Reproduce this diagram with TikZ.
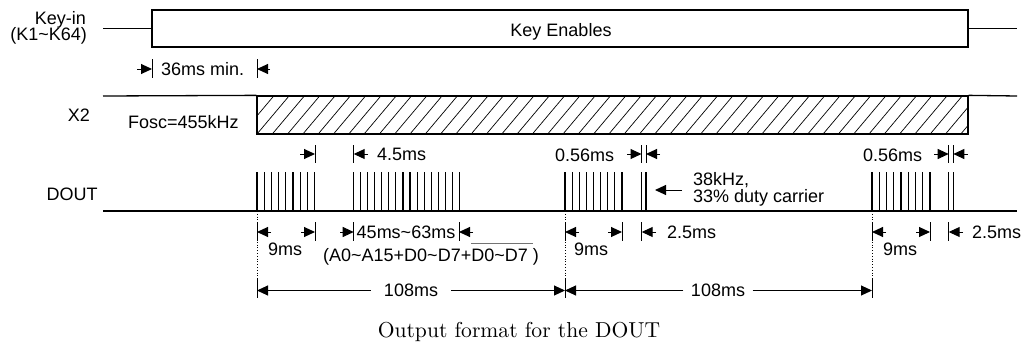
\documentclass[tikz,border=0pt]{standalone}
\usepackage{fontspec}
\newfontfamily\arial{Liberation Sans}
\newfontfamily\capfont{lmroman10-regular}[Extension=.otf]
\usetikzlibrary{arrows.meta}
\newsavebox\ovbox
\newcommand\ovbar[1]{\sbox\ovbox{#1}\rlap{\textcolor{black!55}{\rule[17pt]{\wd\ovbox}{1pt}}}\usebox\ovbox}
\begin{document}
\begin{tikzpicture}[x=1pt,y=-1pt,
  sig/.style={line width=1.3pt},
  pulse/.style={line width=1.1pt},
  tickline/.style={line width=1pt},
  hatch/.style={line width=0.7pt},
  dimarr/.style={line width=1pt,-{Triangle[length=11pt,width=10pt]}},
  lbl/.style={font=\arial\fontsize{18}{18}\selectfont, inner sep=0pt, anchor=base},
]
\useasboundingbox (0,0) rectangle (1024,345);

% ---------------- Key-in ----------------
\node[lbl, anchor=base east] (kin1) at (86,25) {Key-in};
\node[lbl, anchor=base east] (kin2) at (87,41) {(K1\textasciitilde K64)};
\coordinate (kinL) at (103,28.5);
\coordinate (kinR) at (1017,28.5);
\node[draw, sig, inner sep=0pt, minimum width=816pt, minimum height=37pt] (keybox) at (560,28.5) {};
\node[lbl] (keyen) at (561,36.5) {Key Enables};
\draw[sig] (kinL) -- (keybox.west);
\draw[sig] (keybox.east) -- (kinR);

% 36ms min.
\draw[tickline] (152,59) -- (152,78);
\draw[tickline] (257,59) -- (257,78);
\draw[dimarr] (137,69) -- (152,69);
\draw[dimarr] (270,69) -- (257,69);
\node[lbl, anchor=base west] (t36) at (161,75) {36ms min.};

% ---------------- X2 ----------------
\node[lbl] (x2) at (79,121.5) {X2};
\node[lbl, anchor=base west] (fosc) at (128,128) {Fosc=455kHz};
\node[draw, sig, inner sep=0pt, minimum width=711pt, minimum height=38pt] (xbox) at (612.5,115) {};
\begin{scope}
  \clip (xbox.south west) rectangle (xbox.north east);
  \foreach \i in {-3,...,48}
    \draw[hatch] (257+\i*15.3,134) -- ++(32,-38);
\end{scope}
\coordinate (x2L) at (103,96);
\coordinate (x2R) at (1017,96);
\draw[sig] (x2L) -- (xbox.north west);
\draw[sig] (xbox.north east) -- (x2R);

% ---------------- DOUT ----------------
\node[lbl] (dout) at (72,200) {DOUT};
\coordinate (dL) at (103,211);
\coordinate (dR) at (1017,211);
\draw[sig] (dL) -- (dR);

% pulses
\foreach \i in {0,...,8}  \draw[pulse] (257+\i*7.2,172) -- (257+\i*7.2,211);
\foreach \i in {0,...,15} \draw[pulse] (353.7+\i*7.04,172) -- (353.7+\i*7.04,211);
\foreach \i in {0,...,8}  \draw[pulse] (565+\i*7.125,172) -- (565+\i*7.125,211);
\foreach \x in {641.5,646} \draw[pulse] (\x,172) -- (\x,211);
\foreach \i in {0,...,8}  \draw[pulse] (872+\i*7.25,172) -- (872+\i*7.25,211);
\foreach \x in {948.7,953.3} \draw[pulse] (\x,172) -- (\x,211);

% top dimensions
\foreach \x in {315,353.7,641.5,646,948.7,953.3} \draw[tickline] (\x,145) -- (\x,163);
\draw[dimarr] (300,154) -- (315,154);
\draw[dimarr] (368,154) -- (353.7,154);
\node[lbl, anchor=base west] (t45) at (377,160) {4.5ms};
\node[lbl, anchor=base west] (t056a) at (555,161) {0.56ms};
\draw[dimarr] (627,154) -- (641.5,154);
\draw[dimarr] (660,154) -- (646,154);
\node[lbl, anchor=base west] (t056b) at (863,161) {0.56ms};
\draw[dimarr] (934,154) -- (948.7,154);
\draw[dimarr] (967.5,154) -- (953.3,154);

% carrier note
\node[lbl, anchor=base west] (c1) at (693,185) {38kHz,};
\node[lbl, anchor=base west] (c2) at (693,202) {33\% duty carrier};
\coordinate (carr) at (655,190);
\draw[dimarr] (682,190) -- (carr);

% dotted guides
\foreach \x in {257,565,872} \draw[line width=0.8pt, dotted] (\x,211) -- (\x,280);

% bottom dimensions
\foreach \x in {257,315,353.7,459,565,622,641.7,872,930,948.7} \draw[tickline] (\x,222) -- (\x,241);
\draw[dimarr] (271,232) -- (257,232);
\draw[dimarr] (301,232) -- (315,232);
\node[lbl] (t9a) at (285,255) {9ms};
\draw[dimarr] (340,232) -- (353.7,232);
\draw[dimarr] (473,232) -- (459,232);
\node[lbl] (t4563) at (406,238) {45ms\textasciitilde 63ms};
\node[lbl] (tcode) at (431,261) {(A0\textasciitilde A15+D0\textasciitilde D7+\ovbar{D0\textasciitilde D7\ })};
\draw[dimarr] (579,232) -- (565,232);
\draw[dimarr] (608,232) -- (622,232);
\node[lbl] (t9b) at (591,255) {9ms};
\draw[dimarr] (656,232) -- (641.7,232);
\node[lbl, anchor=base west] (t25a) at (667,238) {2.5ms};
\draw[dimarr] (886,232) -- (872,232);
\draw[dimarr] (916,232) -- (930,232);
\node[lbl] (t9c) at (900,255) {9ms};
\draw[dimarr] (963,232) -- (948.7,232);
\node[lbl, anchor=base west] (t25b) at (972,238) {2.5ms};

% 108ms
\foreach \x in {257,565,872} \draw[tickline] (\x,278) -- (\x,298);
\coordinate (s1) at (257,290.5);
\coordinate (s2) at (565,290.5);
\coordinate (s3) at (872,290.5);
\node[font=\arial\fontsize{18}{18}\selectfont, inner xsep=13pt, inner ysep=0pt] (t108a) at (411,290.5) {108ms};
\node[font=\arial\fontsize{18}{18}\selectfont, inner xsep=7.5pt, inner ysep=0pt] (t108b) at (718,290.5) {108ms};
\draw[dimarr] (t108a.west) -- (s1);
\draw[dimarr] (t108a.east) -- (s2);
\draw[dimarr] (t108b.west) -- (s2);
\draw[dimarr] (t108b.east) -- (s3);

% caption
\node[font=\capfont\fontsize{21.6}{22}\selectfont, inner sep=0pt, anchor=base] (cap) at (519,337) {Output format for the DOUT};
\end{tikzpicture}
\end{document}
